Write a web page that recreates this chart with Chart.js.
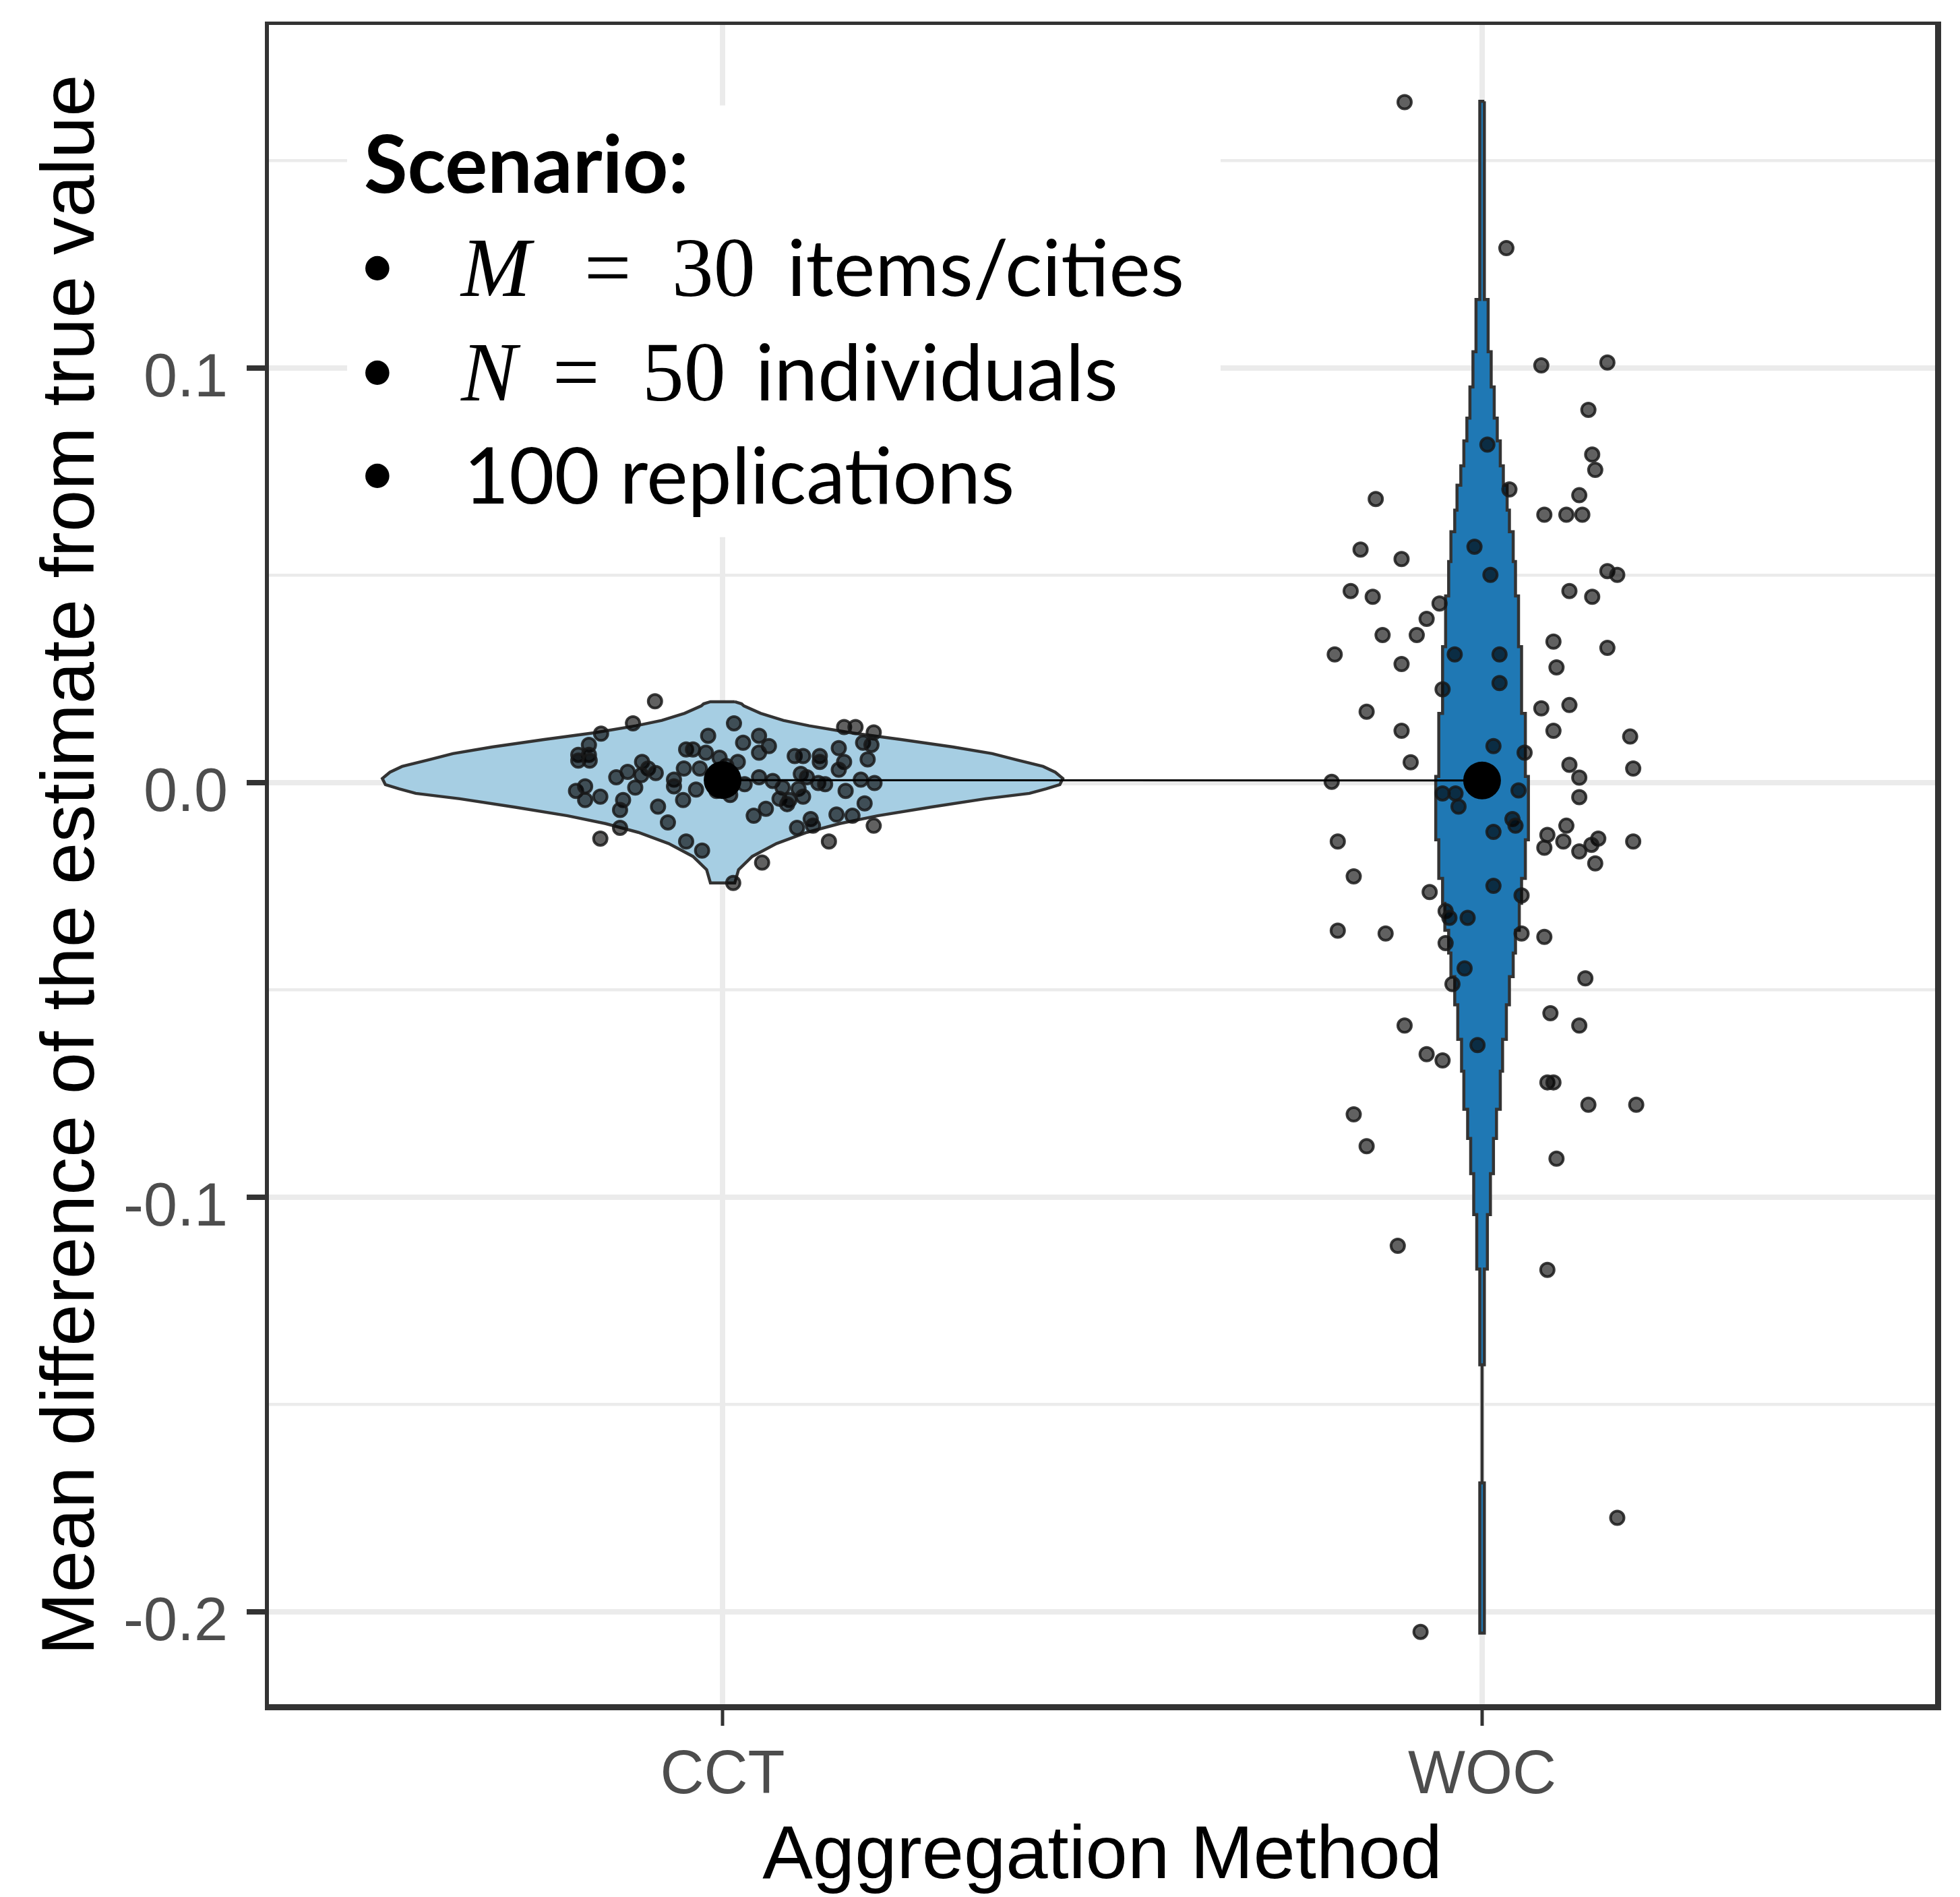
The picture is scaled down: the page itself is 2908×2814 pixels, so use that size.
<!DOCTYPE html>
<html>
<head>
<meta charset="utf-8">
<script src="https://cdn.jsdelivr.net/npm/chart.js@4.4.1/dist/chart.umd.min.js"></script>
<style>
    html, body { margin: 0; padding: 0; background: #fff; }
    #wrap { width: 2908px; height: 2814px; }
</style>
</head>
<body>
<div id="wrap"><canvas id="chart"></canvas></div>
<script>
// Categories and axis ticks
const categories = ['CCT', 'WOC'];
const yMajorTicks = [-0.2, -0.1, 0, 0.1];
const yMinorTicks = [-0.15, -0.05, 0.05, 0.15];
const yTickLabels = ['-0.2', '-0.1', '0.0', '0.1'];

// Mean of each method (big black dots)
const means = [0.0006, 0.0005];

// Replications, CCT: jitter offset from category centre + value
const cctJitter = [-0.089, -0.118, -0.160, -0.176, -0.190, -0.176, -0.190, -0.175, -0.019, -0.048,
    -0.039, -0.022, 0.015, -0.106, -0.098, -0.088, -0.125, -0.140, -0.107, -0.051,
    -0.030, -0.064, -0.064, -0.193, -0.181, -0.181, -0.161, -0.115, -0.131, -0.135,
    -0.035, -0.052, -0.085, -0.072, -0.135, -0.161, -0.048, -0.027, 0.014, 0.027,
    0.048, 0.061, 0.048, 0.020, 0.095, 0.106, 0.128, 0.128, 0.153, 0.160,
    0.153, 0.160, 0.175, 0.199, 0.185, 0.196, 0.191, 0.048, 0.066, 0.029,
    0.103, 0.111, 0.126, 0.135, 0.079, 0.100, 0.182, 0.200, 0.162, 0.075,
    0.088, 0.106, 0.085, 0.057, 0.041, 0.187, 0.150, 0.171, 0.116, 0.119,
    0.098, 0.199, 0.140, 0.052, 0.005, -0.008, 0.010, -0.004];
const cctValues = [0.0196, 0.0143, 0.0118, 0.0091, 0.0067, 0.0067, 0.0053, 0.0053, 0.0113, 0.0080,
    0.0080, 0.0072, 0.0143, 0.0050, 0.0034, 0.0023, 0.0026, 0.0013, 0.0018, 0.0034,
    0.0034, 0.0007, -0.0009, -0.0020, -0.0009, -0.0042, -0.0034, -0.0012, -0.0042, -0.0066,
    -0.0017, -0.0042, -0.0058, -0.0096, -0.0109, -0.0135, -0.0142, -0.0164, -0.0242, 0.0096,
    0.0113, 0.0088, 0.0072, 0.0050, 0.0064, 0.0064, 0.0064, 0.0050, 0.0083, 0.0050,
    0.0031, 0.0134, 0.0134, 0.0121, 0.0096, 0.0091, 0.0056, 0.0013, 0.0004, -0.0004,
    0.0021, 0.0013, -0.0001, -0.0004, -0.0012, -0.0015, 0.0007, -0.0001, -0.0020, -0.0039,
    -0.0042, -0.0034, -0.0052, -0.0063, -0.0080, -0.0050, -0.0077, -0.0080, -0.0088, -0.0104,
    -0.0109, -0.0104, -0.0142, -0.0193, 0.0040, -0.0020, -0.0030, 0.0060];

// Replications, WOC
const wocJitter = [-0.102, 0.032, 0.078, 0.165, 0.140, 0.007, 0.145, 0.149, 0.036, -0.140,
    0.128, 0.082, 0.111, 0.132, -0.160, -0.106, -0.010, 0.011, 0.165, 0.178,
    -0.173, -0.144, 0.115, 0.145, -0.056, -0.073, -0.131, -0.086, 0.094, 0.165,
    -0.194, -0.036, 0.023, -0.106, 0.098, -0.052, 0.023, -0.152, 0.078, 0.115,
    -0.106, 0.094, 0.195, 0.015, 0.056, -0.094, 0.115, 0.199, 0.128, -0.198,
    -0.052, -0.035, 0.128, -0.031, 0.048, 0.040, 0.044, 0.111, 0.015, 0.086,
    0.153, 0.107, 0.144, -0.190, 0.199, 0.082, 0.128, 0.149, -0.169, -0.069,
    0.015, 0.052, -0.048, -0.043, -0.019, -0.190, -0.127, 0.052, 0.082, -0.048,
    -0.023, -0.039, 0.136, 0.090, -0.102, 0.128, -0.006, -0.073, -0.052, 0.086,
    0.094, 0.140, 0.203, -0.169, -0.152, 0.098, -0.111, 0.086, 0.178, -0.081];
const wocValues = [0.1641, 0.1289, 0.1006, 0.1013, 0.0899, 0.0815, 0.0791, 0.0754, 0.0707, 0.0684,
    0.0693, 0.0646, 0.0646, 0.0646, 0.0562, 0.0539, 0.0569, 0.0501, 0.0510, 0.0501,
    0.0462, 0.0448, 0.0462, 0.0448, 0.0432, 0.0395, 0.0356, 0.0356, 0.0340, 0.0325,
    0.0309, 0.0309, 0.0309, 0.0286, 0.0278, 0.0225, 0.0240, 0.0171, 0.0179, 0.0187,
    0.0125, 0.0125, 0.0111, 0.0088, 0.0072, 0.0049, 0.0043, 0.0034, 0.0012, 0.0002,
    -0.0026, -0.0026, -0.0035, -0.0058, -0.0019, -0.0088, -0.0104, -0.0104, -0.0119, -0.0126,
    -0.0135, -0.0142, -0.0150, -0.0142, -0.0142, -0.0157, -0.0166, -0.0195, -0.0226, -0.0264,
    -0.0249, -0.0272, -0.0310, -0.0326, -0.0326, -0.0357, -0.0364, -0.0364, -0.0372, -0.0387,
    -0.0448, -0.0486, -0.0472, -0.0556, -0.0586, -0.0586, -0.0633, -0.0655, -0.0670, -0.0723,
    -0.0723, -0.0777, -0.0777, -0.0800, -0.0877, -0.0907, -0.1117, -0.1175, -0.1773, -0.2048];

// Violin outlines: half widths (x units)
const cctViolinY = [0.0195, 0.0190, 0.0185, 0.0167, 0.0150, 0.0137, 0.0120, 0.0104, 0.0086, 0.0070,
    0.0055, 0.0039, 0.0025, 0.0010, -0.0005, -0.0015, -0.0026, -0.0039, -0.0059, -0.0080,
    -0.0099, -0.0120, -0.0147, -0.0178, -0.0210, -0.0242];
const cctViolinHalf = [0.016, 0.025, 0.028, 0.050, 0.080, 0.114, 0.169, 0.235, 0.303, 0.355,
    0.387, 0.422, 0.438, 0.448, 0.444, 0.426, 0.404, 0.346, 0.274, 0.204,
    0.154, 0.111, 0.071, 0.039, 0.021, 0.016];

const wocViolinBreaks = [0.1643, 0.1165, 0.1039, 0.0954, 0.0879, 0.0824, 0.0764, 0.0717, 0.0657, 0.0605,
    0.0533, 0.0450, 0.0328, 0.0167, 0.0015, -0.0138, -0.0231, -0.0291, -0.0356, -0.0411,
    -0.0468, -0.0536, -0.0619, -0.0696, -0.0788, -0.0858, -0.0943, -0.1042, -0.1173, -0.1404,
    -0.1689, -0.2051];
const wocViolinHalf = [0.003, 0.008, 0.012, 0.016, 0.020, 0.024, 0.028, 0.033, 0.036, 0.041,
    0.044, 0.048, 0.052, 0.057, 0.061, 0.057, 0.052, 0.049, 0.044, 0.041,
    0.036, 0.032, 0.027, 0.024, 0.019, 0.015, 0.011, 0.007, 0.003, 0,
    0.003];

const FONT = "'Liberation Sans', Arial, sans-serif";

function smoothViolin(center, ys, halfs) {
    const right = ys.map((y, i) => ({ x: center + halfs[i], y: y }));
    const left = right.map((p) => ({ x: 2 * center - p.x, y: p.y })).reverse();
    const pts = right.concat(left);
    pts.push(pts[0]);
    return pts;
}

function stepViolin(center, breaks, halfs) {
    const right = [];
    halfs.forEach((h, i) => {
        right.push({ x: center + h, y: breaks[i] });
        right.push({ x: center + h, y: breaks[i + 1] });
    });
    const left = right.map((p) => ({ x: 2 * center - p.x, y: p.y })).reverse();
    const pts = right.concat(left);
    pts.push(pts[0]);
    return pts;
}

const cctPoints = cctJitter.map((dx, i) => ({ x: 1 + dx, y: cctValues[i] }));
const wocPoints = wocJitter.map((dx, i) => ({ x: 2 + dx, y: wocValues[i] }));
const meanPoints = means.map((m, i) => ({ x: i + 1, y: m }));

const isMajor = (v) => yMajorTicks.indexOf(v) >= 0;

// white box with the scenario text, placed in data units
const scenarioPlugin = {
    id: 'scenario',
    beforeDatasetsDraw(chart) {
        const { ctx, scales: { x, y } } = chart;
        const px = (v) => x.getPixelForValue(v);
        const py = (v) => y.getPixelForValue(v);
        ctx.save();
        ctx.fillStyle = '#ffffff';
        ctx.fillRect(px(0.5056), py(0.1633), px(1.6557) - px(0.5056), py(0.0592) - py(0.1633));

        ctx.fillStyle = '#000000';
        ctx.textBaseline = 'alphabetic';
        ctx.textAlign = 'left';
        const sans = '116px Lato';
        const serif = "124px 'Liberation Serif'";
        const italic = "italic 124px 'Liberation Serif'";

        ctx.font = 'bold 118px Lato';
        ctx.fillText('Scenario:', px(0.5277), py(0.1422));

        const lines = [
            { y: 0.1173, parts: [[italic, 'M', 0.6555], [serif, '=', 0.8178], [serif, '30', 0.9331], [sans, 'items/cities', 1.0849]] },
            { y: 0.0922, parts: [[italic, 'N', 0.6555], [serif, '=', 0.7761], [serif, '50', 0.8941], [sans, 'individuals', 1.0431]] },
            { y: 0.0673, parts: [[sans, '100 replications', 0.6591]] },
        ];
        lines.forEach((line) => {
            ctx.textAlign = 'center';
            ctx.font = '96px Lato';
            ctx.fillText('\u2022', px(0.5455), py(line.y) - 12);
            ctx.textAlign = 'left';
            line.parts.forEach(([font, text, xv]) => {
                ctx.font = font;
                ctx.fillText(text, px(xv), py(line.y));
            });
        });
        ctx.restore();
    },
};

// ggplot-like panel border
const borderPlugin = {
    id: 'panelBorder',
    afterDraw(chart) {
        const { ctx, chartArea: a } = chart;
        ctx.save();
        ctx.fillStyle = '#333333';
        ctx.fillRect(a.left - 3, a.top - 2, a.right - a.left + 8, 5);
        ctx.fillRect(a.left - 3, a.top - 2, 6, a.bottom - a.top + 6);
        ctx.fillRect(a.right - 4, a.top - 2, 9, a.bottom - a.top + 7);
        ctx.fillRect(a.left - 3, a.bottom - 4, a.right - a.left + 8, 9);
        ctx.restore();
    },
};

const ctx = document.getElementById('chart').getContext('2d');
new Chart(ctx, {
    type: 'scatter',
    data: {
        datasets: [
            {
                label: 'CCT violin',
                data: smoothViolin(1, cctViolinY, cctViolinHalf),
                showLine: true,
                fill: 'shape',
                backgroundColor: '#A6CEE3',
                borderColor: '#333333',
                borderWidth: 4.5,
                pointRadius: 0,
                tension: 0,
                order: 6,
            },
            {
                label: 'WOC violin',
                data: stepViolin(2, wocViolinBreaks, wocViolinHalf),
                showLine: true,
                fill: 'shape',
                backgroundColor: '#1F78B4',
                borderColor: '#333333',
                borderWidth: 4.5,
                pointRadius: 0,
                tension: 0,
                order: 5,
            },
            {
                label: 'CCT replications',
                data: cctPoints,
                pointRadius: 10,
                backgroundColor: 'rgba(0,0,0,0.62)',
                borderColor: 'rgba(25,25,25,0.85)',
                borderWidth: 4,
                order: 4,
            },
            {
                label: 'WOC replications',
                data: wocPoints,
                pointRadius: 10,
                backgroundColor: 'rgba(0,0,0,0.62)',
                borderColor: 'rgba(25,25,25,0.85)',
                borderWidth: 4,
                order: 3,
            },
            {
                label: 'mean line',
                data: meanPoints,
                showLine: true,
                borderColor: '#000000',
                borderWidth: 3,
                pointRadius: 0,
                order: 2,
            },
            {
                label: 'means',
                data: meanPoints,
                pointRadius: 28,
                backgroundColor: '#000000',
                borderWidth: 0,
                order: 1,
            },
        ],
    },
    options: {
        responsive: true,
        maintainAspectRatio: false,
        devicePixelRatio: 1,
        animation: false,
        events: [],
        layout: { padding: { top: 34, right: 33, left: 0, bottom: 0 } },
        plugins: {
            legend: { display: false },
            tooltip: { enabled: false },
        },
        scales: {
            x: {
                type: 'linear',
                min: 0.4,
                max: 2.6,
                afterBuildTicks: (scale) => {
                    scale.ticks = categories.map((c, i) => ({ value: i + 1 }));
                },
                afterFit: (scale) => {
                    scale.height = 282;
                    scale.paddingLeft = 0;
                    scale.paddingRight = 0;
                },
                ticks: {
                    callback: (value, index) => categories[index],
                    font: { family: FONT, size: 90 },
                    color: '#4D4D4D',
                    padding: 21,
                    maxRotation: 0,
                    autoSkip: false,
                },
                grid: {
                    color: '#EBEBEB',
                    lineWidth: 8,
                    tickLength: 28,
                    tickWidth: 5,
                    tickColor: '#333333',
                },
                border: { display: false },
                title: {
                    display: true,
                    text: 'Aggregation Method',
                    color: '#000000',
                    font: { family: FONT, size: 112, lineHeight: 1 },
                    padding: { top: 0, bottom: 3 },
                },
            },
            y: {
                type: 'linear',
                min: -0.2229,
                max: 0.1832,
                afterBuildTicks: (scale) => {
                    scale.ticks = yMajorTicks.concat(yMinorTicks)
                        .sort((a, b) => a - b)
                        .map((v) => ({ value: v }));
                },
                afterFit: (scale) => {
                    scale.width = 396;
                    scale.paddingTop = 0;
                    scale.paddingBottom = 0;
                },
                ticks: {
                    callback: (value) => (isMajor(value) ? yTickLabels[yMajorTicks.indexOf(value)] : ''),
                    font: { family: FONT, size: 90 },
                    color: '#4D4D4D',
                    padding: 28,
                    labelOffset: 17,
                    autoSkip: false,
                },
                grid: {
                    color: '#EBEBEB',
                    lineWidth: (c) => (c.tick && isMajor(c.tick.value) ? 8 : 4.5),
                    tickLength: 30,
                    tickWidth: 8,
                    tickColor: (c) => (c.tick && isMajor(c.tick.value) ? '#333333' : 'rgba(0,0,0,0)'),
                },
                border: { display: false },
                title: {
                    display: true,
                    text: 'Mean difference of the estimate from true value',
                    color: '#000000',
                    font: { family: FONT, size: 112, lineHeight: 1 },
                    padding: { top: 52, bottom: 0 },
                },
            },
        },
    },
    plugins: [scenarioPlugin, borderPlugin],
});
</script>
</body>
</html>
